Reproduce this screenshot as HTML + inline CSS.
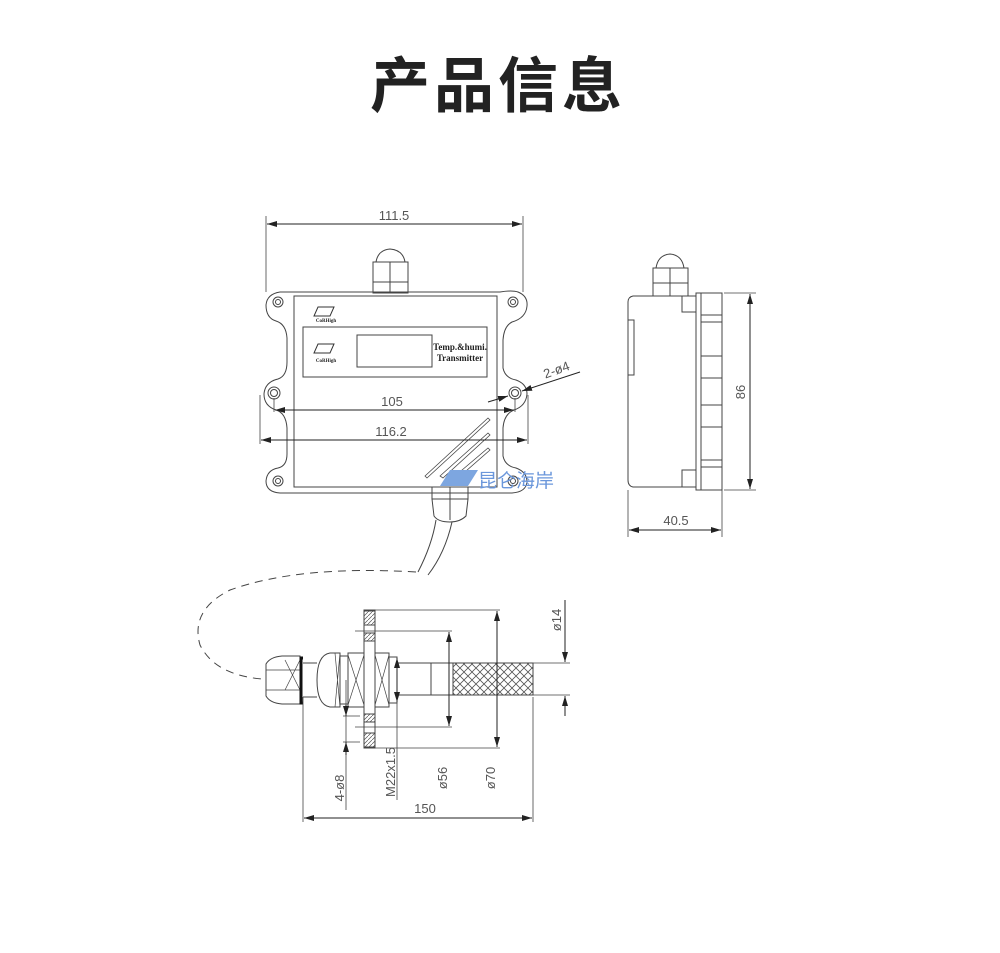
<!DOCTYPE html>
<html><head><meta charset="utf-8"><style>
html,body{margin:0;padding:0;background:#fff;width:1000px;height:953px;overflow:hidden}
svg{display:block}
</style></head><body>
<svg width="1000" height="953" viewBox="0 0 1000 953" xmlns="http://www.w3.org/2000/svg" font-family="'Liberation Sans','Noto Sans CJK SC',sans-serif">
<text x="498" y="107" text-anchor="middle" font-size="60" font-weight="bold" fill="#222" font-family="'Noto Sans CJK SC',sans-serif" letter-spacing="4">产品信息</text>
<defs>
<marker id="a" viewBox="0 0 10 6" refX="10" refY="3" markerWidth="10" markerHeight="6" orient="auto-start-reverse" markerUnits="userSpaceOnUse"><path d="M0,0L10,3L0,6z" fill="#222"/></marker>
<pattern id="x" width="8" height="8" patternUnits="userSpaceOnUse"><path d="M0,0L8,8M8,0L0,8" stroke="#555" stroke-width="0.8"/></pattern>
<pattern id="h" width="4" height="4" patternUnits="userSpaceOnUse"><path d="M0,4L4,0" stroke="#555" stroke-width="0.7"/></pattern>
</defs>
<g fill="none" stroke="#444" stroke-width="1">
<!-- front view outline with ears -->
<path d="M290,292 L500,292 Q512,290 518,292 Q528,296 527,306 Q526,318 512,322 Q504,326 503,340 L503,368 Q505,378 516,380 Q527,384 527,394 Q526,406 514,410 Q504,414 503,428 L503,456 Q505,466 516,468 Q527,472 527,482 Q526,492 512,493 L280,493 Q266,492 266,481 Q267,470 278,468 Q287,466 287,454 L287,428 Q286,413 276,410 Q264,406 264,394 Q265,382 278,379 Q287,376 287,362 L287,338 Q286,324 276,321 Q266,318 266,305 Q267,294 280,292 Z"/>
<rect x="294" y="296" width="203" height="191"/>
<rect x="303" y="327" width="184" height="50"/>
<rect x="357" y="335" width="75" height="32"/>
<circle cx="278" cy="302" r="5"/><circle cx="278" cy="302" r="2.5"/>
<circle cx="513" cy="302" r="5"/><circle cx="513" cy="302" r="2.5"/>
<circle cx="274" cy="393" r="6"/><circle cx="274" cy="393" r="3.5"/>
<circle cx="515" cy="393" r="6"/><circle cx="515" cy="393" r="3.5"/>
<circle cx="278" cy="481" r="5"/><circle cx="278" cy="481" r="2.5"/>
<circle cx="513" cy="481" r="5"/><circle cx="513" cy="481" r="2.5"/>
<!-- top gland -->
<path d="M376,262 Q378,250 390,249 Q403,250 405,262"/>
<rect x="373" y="262" width="35" height="20"/><line x1="390" y1="262" x2="390" y2="293"/>
<rect x="373" y="282" width="35" height="11"/>
<!-- bottom gland -->
<rect x="432" y="487" width="36" height="12"/><line x1="450" y1="487" x2="450" y2="520"/>
<path d="M432,499 L468,499 L466,516 Q460,522 450,522 Q438,522 434,516 Z"/>
<path d="M436,520 Q432,545 418,572 M452,522 Q445,553 428,575"/>
<!-- hatch lines -->
<path d="M425,476 L488,418 L490,420 L427,478Z M440,476 L488,433 L490,435 L443,478Z M455,476 L488,448 L490,450 L458,478Z" stroke-width="0.8"/>
<!-- dashed cable -->
<path d="M416,572 Q300,565 230,590 Q190,610 200,645 Q215,675 262,679" stroke-dasharray="8,6"/>
<!-- dims front -->
<path d="M266,292 V216 M523,292 V216 M274,398 V412 M515,398 V412 M260,395 V444 M528,395 V444" stroke-width="0.8"/>
<line x1="267" y1="224" x2="522" y2="224" marker-start="url(#a)" marker-end="url(#a)" stroke="#222"/>
<line x1="275" y1="410" x2="514" y2="410" marker-start="url(#a)" marker-end="url(#a)" stroke="#222"/>
<line x1="261" y1="440" x2="527" y2="440" marker-start="url(#a)" marker-end="url(#a)" stroke="#222"/>
<line x1="488" y1="402" x2="508" y2="396" marker-end="url(#a)" stroke="#222"/>
<line x1="522" y1="391" x2="580" y2="372" marker-start="url(#a)" stroke="#222"/>
<!-- side view -->
<path d="M633,296 L696,296 L696,487 L633,487 Q628,486 628,480 L628,302 Q628,297 633,296Z"/>
<path d="M628,320 H634 V375 H628"/>
<rect x="682" y="296" width="14" height="16"/><rect x="682" y="470" width="14" height="17"/>
<rect x="696" y="293" width="5" height="197"/>
<rect x="701" y="293" width="21" height="197"/>
<path d="M701,315 H722 M701,322 H722 M701,356 H722 M701,378 H722 M701,405 H722 M701,427 H722 M701,460 H722 M701,467 H722"/>
<path d="M656,268 Q658,255 670,254 Q682,255 684,268"/>
<rect x="653" y="268" width="35" height="15"/><line x1="670" y1="268" x2="670" y2="296"/>
<rect x="653" y="283" width="35" height="13"/>
<path d="M724,293 H756 M724,490 H756 M628,490 V537 M722,490 V537" stroke-width="0.8"/>
<line x1="750" y1="294" x2="750" y2="489" marker-start="url(#a)" marker-end="url(#a)" stroke="#222"/>
<line x1="629" y1="530" x2="721" y2="530" marker-start="url(#a)" marker-end="url(#a)" stroke="#222"/>
<!-- probe -->
<rect x="364" y="610" width="11" height="138"/>
<rect x="364" y="611" width="11" height="14" fill="url(#h)"/><rect x="364" y="733" width="11" height="14" fill="url(#h)"/>
<rect x="364" y="633" width="11" height="8" fill="url(#h)"/><rect x="364" y="714" width="11" height="8" fill="url(#h)"/>
<path d="M266,664 Q270,657 282,656 L300,656 L300,704 L282,704 Q270,703 266,696 Z"/>
<path d="M266,670 H300 M266,690 H300 M285,660 L300,690 M285,690 L300,660" stroke-width="0.7"/>
<path d="M303,658 H301 V703 H303" stroke="#111" stroke-width="3"/>
<line x1="303" y1="663" x2="317" y2="663"/><line x1="303" y1="697" x2="317" y2="697"/>
<path d="M330,653 Q317,655 317,680 Q317,705 330,707 L340,707 L340,653Z"/>
<path d="M335,653 L340,707 M335,707 L340,653" stroke-width="0.7"/>
<rect x="340" y="656" width="8" height="48"/>
<rect x="348" y="653" width="16" height="54"/>
<path d="M348,655 L364,705 M348,705 L364,655" stroke-width="0.7"/>
<rect x="375" y="653" width="14" height="54"/>
<path d="M375,655 L389,705 M375,705 L389,655" stroke-width="0.7"/>
<rect x="389" y="657" width="8" height="46"/>
<rect x="397" y="663" width="56" height="32"/><line x1="431" y1="663" x2="431" y2="695"/>
<rect x="453" y="663" width="80" height="32" fill="url(#x)"/>
<path d="M375,610 H500 M355,631 H452 M355,727 H452 M375,748 H500 M533,663 H570 M533,695 H570 M533,697 V822 M303,697 V822 M343,716 H360 M343,742 H360 M397,700 V800 M346,680 V810" stroke-width="0.8"/>
<line x1="497" y1="611" x2="497" y2="747" marker-start="url(#a)" marker-end="url(#a)" stroke="#222"/>
<line x1="449" y1="632" x2="449" y2="726" marker-start="url(#a)" marker-end="url(#a)" stroke="#222"/>
<line x1="397" y1="658" x2="397" y2="702" marker-start="url(#a)" marker-end="url(#a)" stroke="#222"/>
<line x1="346" y1="705" x2="346" y2="716" marker-end="url(#a)" stroke="#222"/>
<line x1="346" y1="755" x2="346" y2="742" marker-end="url(#a)" stroke="#222"/>
<line x1="565" y1="600" x2="565" y2="662" marker-end="url(#a)" stroke="#222"/>
<line x1="565" y1="716" x2="565" y2="696" marker-end="url(#a)" stroke="#222"/>
<line x1="304" y1="818" x2="532" y2="818" marker-start="url(#a)" marker-end="url(#a)" stroke="#222"/>
</g>
<g fill="#555" font-size="13">
<text x="394" y="220" text-anchor="middle">111.5</text>
<text x="392" y="406" text-anchor="middle">105</text>
<text x="391" y="436" text-anchor="middle">116.2</text>
<text x="558" y="374" transform="rotate(-20 558 374)" text-anchor="middle">2-ø4</text>
<text x="745" y="392" transform="rotate(-90 745 392)" text-anchor="middle">86</text>
<text x="676" y="525" text-anchor="middle">40.5</text>
<text x="425" y="813" text-anchor="middle">150</text>
<text x="561" y="620" transform="rotate(-90 561 620)" text-anchor="middle">ø14</text>
<text x="495" y="778" transform="rotate(-90 495 778)" text-anchor="middle">ø70</text>
<text x="447" y="778" transform="rotate(-90 447 778)" text-anchor="middle">ø56</text>
<text x="395" y="772" transform="rotate(-90 395 772)" text-anchor="middle">M22x1.5</text>
<text x="344" y="788" transform="rotate(-90 344 788)" text-anchor="middle">4-ø8</text>
</g>
<g font-family="'Liberation Serif',serif" font-weight="bold" fill="#222">
<text x="460" y="350" font-size="9" text-anchor="middle">Temp.&amp;humi.</text>
<text x="460" y="361" font-size="9" text-anchor="middle">Transmitter</text>
<text x="326" y="322" font-size="5" text-anchor="middle">CoRHigh</text>
<text x="326" y="362" font-size="5" text-anchor="middle">CoRHigh</text>
</g>
<path d="M318,307 H334 L330,316 H314Z M318,344 H334 L330,353 H314Z" fill="none" stroke="#333" stroke-width="1"/>
<path d="M450,470 H468 L458,486 H440Z M466,470 H478 L468,486 H456Z" fill="#7da6e0"/>
<text x="478" y="487" font-size="19" fill="#6b97db" font-family="'Noto Sans CJK SC',sans-serif">昆仑海岸</text>
</svg>
</body></html>
